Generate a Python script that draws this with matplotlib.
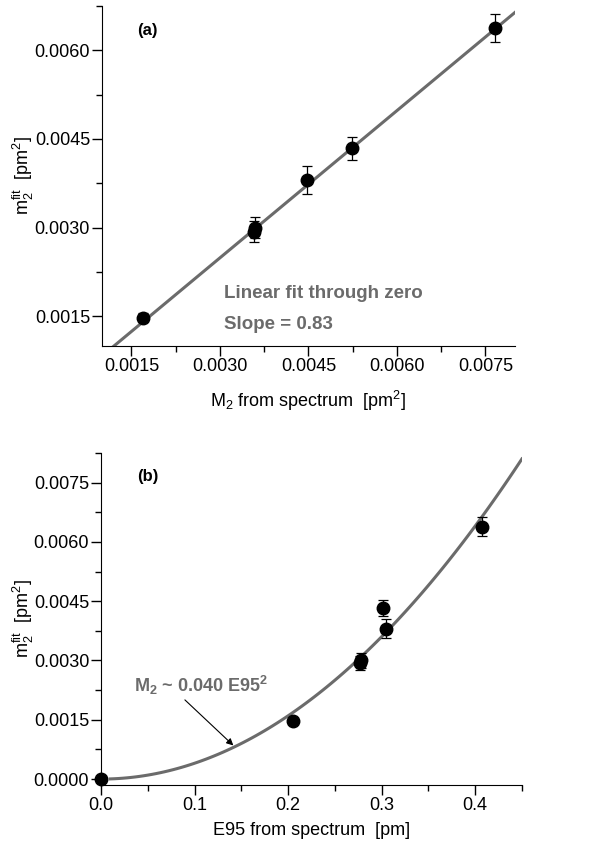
import numpy as np
import matplotlib
matplotlib.use('Agg')
import matplotlib.pyplot as plt
from matplotlib.ticker import MultipleLocator, FormatStrFormatter

plt.rcParams['font.family'] = ['Liberation Sans', 'DejaVu Sans']
plt.rcParams['mathtext.default'] = 'regular'

# Panel (a): m2 fit vs M2 from spectrum
m2_spec = [0.00169, 0.00357, 0.00359, 0.00448, 0.00524, 0.00766]
m2_fit_a = [0.00148, 0.00293, 0.00300, 0.00381, 0.00434, 0.00638]
m2_err_a = [0.00008, 0.00018, 0.00018, 0.00024, 0.00020, 0.00024]
slope = 0.83

# Panel (b): m2 fit vs E95 from spectrum
e95 = [0.0, 0.205, 0.277, 0.278, 0.302, 0.305, 0.407]
m2_fit_b = [0.0, 0.00147, 0.00293, 0.00300, 0.00433, 0.00380, 0.00638]
m2_err_b = [0.0, 0.00008, 0.00018, 0.00018, 0.00020, 0.00024, 0.00024]
coef = 0.040

line_col = '#6b6b6b'
fs = 13

fig = plt.figure(figsize=(6.03, 8.48), dpi=100)

def style_axes(ax):
    for s in ['top', 'right']:
        ax.spines[s].set_visible(False)
    ax.tick_params(which='major', direction='out', length=7, width=1, pad=1.5, labelsize=fs)
    ax.tick_params(which='minor', direction='out', length=4, width=1)

# --- (a)
ax1 = fig.add_axes([0.169, 0.592, 0.685, 0.401])
xs = np.linspace(0.001, 0.0081, 50)
ax1.plot(xs, slope * xs, color=line_col, lw=2.2, zorder=2)
ax1.errorbar(m2_spec, m2_fit_a, yerr=m2_err_a, fmt='o', color='black',
             ms=9, elinewidth=0.9, capsize=3.5, capthick=0.9, zorder=3)
ax1.set_xlim(0.001, 0.008)
ax1.set_ylim(0.001, 0.00675)
ax1.xaxis.set_major_locator(MultipleLocator(0.0015))
ax1.xaxis.set_minor_locator(MultipleLocator(0.00075))
ax1.yaxis.set_major_locator(MultipleLocator(0.0015))
ax1.yaxis.set_minor_locator(MultipleLocator(0.00075))
ax1.xaxis.set_major_formatter(FormatStrFormatter('%.4f'))
ax1.yaxis.set_major_formatter(FormatStrFormatter('%.4f'))
style_axes(ax1)
ax1.set_xlabel('M$_2$ from spectrum  [pm$^2$]', fontsize=fs, labelpad=10)
ax1.set_ylabel('m$_2^{fit}$  [pm$^2$]', fontsize=fs)
ax1.yaxis.set_label_coords(-0.16, 0.5)
ax1.text(0.085, 0.915, '(a)', transform=ax1.transAxes, fontsize=12, fontweight='bold')
ax1.text(0.295, 0.14, 'Linear fit through zero', transform=ax1.transAxes,
         fontsize=13.5, fontweight='bold', color=line_col)
ax1.text(0.295, 0.05, 'Slope = 0.83', transform=ax1.transAxes,
         fontsize=13.5, fontweight='bold', color=line_col)

# --- (b)
ax2 = fig.add_axes([0.1675, 0.0743, 0.698, 0.3915])
xe = np.linspace(0.01, 0.45, 100)
ax2.plot(xe, coef * xe ** 2, color=line_col, lw=2.2, zorder=2)
ax2.errorbar(e95, m2_fit_b, yerr=m2_err_b, fmt='o', color='black',
             ms=9, elinewidth=0.9, capsize=3.5, capthick=0.9, zorder=3, clip_on=False)
ax2.set_xlim(0, 0.45)
ax2.set_ylim(-0.00015, 0.00825)
ax2.xaxis.set_major_locator(MultipleLocator(0.1))
ax2.xaxis.set_minor_locator(MultipleLocator(0.05))
ax2.yaxis.set_major_locator(MultipleLocator(0.0015))
ax2.yaxis.set_minor_locator(MultipleLocator(0.00075))
ax2.xaxis.set_major_formatter(FormatStrFormatter('%.1f'))
ax2.yaxis.set_major_formatter(FormatStrFormatter('%.4f'))
style_axes(ax2)
ax2.set_xlabel('E95 from spectrum  [pm]', fontsize=fs, labelpad=6)
ax2.set_ylabel('m$_2^{fit}$  [pm$^2$]', fontsize=fs)
ax2.yaxis.set_label_coords(-0.155, 0.5)
ax2.text(0.085, 0.915, '(b)', transform=ax2.transAxes, fontsize=12, fontweight='bold')
ax2.annotate('M$_2$ ~ 0.040 E95$^2$', xy=(0.1415, 0.00085), xytext=(0.035, 0.0022),
             fontsize=13, fontweight='bold', color=line_col,
             arrowprops=dict(arrowstyle='-|>', color='black', lw=0.8,
                             mutation_scale=10, shrinkA=0, shrinkB=0,
                             relpos=(0.36, 0.0)))

fig.savefig('out.png', dpi=100)
